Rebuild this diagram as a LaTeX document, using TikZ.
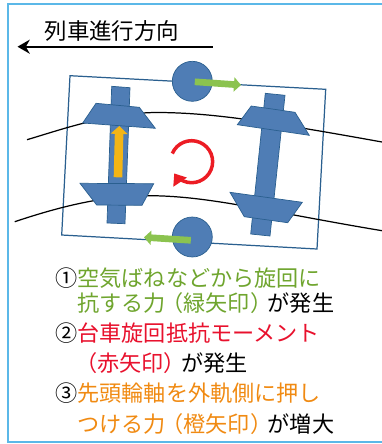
\documentclass[tikz,border=0pt]{standalone}
\usepackage{fontspec}
\setmainfont{Noto Sans CJK JP}
\usetikzlibrary{arrows.meta}
\definecolor{bogieblue}{HTML}{4F7DB5}
\definecolor{bogieline}{HTML}{2A5F8F}
\definecolor{framecyan}{HTML}{5BB8E8}
\definecolor{forcegreen}{HTML}{8BC34F}
\definecolor{forceorange}{HTML}{F3B516}
\definecolor{txtgreen}{HTML}{6FA52E}
\definecolor{txtred}{HTML}{E8112D}
\definecolor{txtorange}{HTML}{F08A12}
\definecolor{turnred}{HTML}{EC1C24}
\tikzset{
	part/.style={fill=bogieblue, draw=bogieline, line width=0.4pt},
	rail/.style={line width=0.7pt},
	force/.style={line width=3.8pt, -{Triangle[length=4pt,width=8pt]}},
	txt/.style={anchor=west, inner sep=0pt, font=\fontsize{12.6pt}{14pt}\selectfont},
}
\newcommand{\tightl}{\hspace{-2.5pt}}
\begin{document}
\begin{tikzpicture}[x=0.02cm,y=-0.02cm]
	\useasboundingbox (0,0) rectangle (382,444);
	% outer frame
	\draw[framecyan, line width=1pt] (382,4) -- (8,4) -- (8,442) -- (382,442);
	% travel direction
	\node[inner sep=0pt, font=\fontsize{12.8pt}{14pt}\selectfont] (dirlabel) at (112,31) {列車進行方向};
	\coordinate (dirstart) at (213,46.7);
	\coordinate (dirend) at (17.5,46.7);
	\draw[line width=1.1pt, -{Stealth[length=7pt,width=8pt]}] (dirstart) -- (dirend);
	% bogie frame
	\draw[bogieline, line width=0.7pt] (70,75.7) -- (325.7,89.3) -- (317,249) -- (61.7,235) -- cycle;
	\node[part, circle, minimum size=0.8cm, inner sep=0pt] (airtop) at (192.3,81.3) {};
	\node[part, circle, minimum size=0.8cm, inner sep=0pt] (airbot) at (192.3,237) {};
	% rails
	\draw[rail] (27,139.7) .. controls (60,130) and (110,112) .. (160,112.5) .. controls (210,113) and (260,120) .. (382,142);
	\draw[rail] (14.7,221.7) .. controls (50,210) and (100,195) .. (150,195.7) .. controls (210,196) and (270,212) .. (382,230.7);
	% axles
	\draw[part] (111.7,86.3) -- (130,87.7) -- (125,223.7) -- (107,223) -- cycle;
	\draw[part] (265.3,93.3) -- (285,95.3) -- (270,236) -- (250.7,234) -- cycle;
	% wheels
	\draw[part] (96,103.3) -- (139.3,107.3) -- (155.3,128.3) -- (82.7,123) -- cycle;
	\draw[part] (80,183.3) -- (153.7,183.7) -- (142,205.3) -- (96.7,205) -- cycle;
	\draw[part] (251.3,106) -- (295,112.3) -- (309.3,135.3) -- (237.3,124.7) -- cycle;
	\draw[part] (230,192.3) -- (302.3,202.3) -- (287.7,222.7) -- (244.3,216.7) -- cycle;
	% forces
	\coordinate (topforce) at (241,85);
	\coordinate (botforce) at (144,237.3);
	\coordinate (axleforce) at (119.3,126);
	\draw[force, forcegreen] (airtop.center) ++(2.5,0.5) -- (topforce);
	\draw[force, forcegreen] (airbot.center) ++(-1.5,3.3) -- (botforce);
	\draw[force, forceorange, line width=4.9pt, -{Triangle[length=4.5pt,width=9.5pt]}] (118,177.3) -- (axleforce);
	\draw[turnred, line width=2pt, -{Triangle[length=6pt,width=9pt]}] (172.3,153.5) arc[start angle=-157, end angle=146, radius=21];
	% text
	\node[txt] (lineA) at (55,278) {\textcolor{black}{①}\textcolor{txtgreen}{空気ばねなどから旋回に}};
	\node[txt] (lineB) at (77,303) {\textcolor{txtgreen}{抗する力\tightl（緑矢印）\tightl}が発生};
	\node[txt] (lineC) at (55,333) {\textcolor{black}{②}\textcolor{txtred}{台車旋回抵抗モーメント}};
	\node[txt] (lineD) at (75,363) {\textcolor{txtred}{（赤矢印）\tightl}が発生};
	\node[txt] (lineE) at (55,393) {\textcolor{black}{③}\textcolor{txtorange}{先頭輪軸を外軌側に押し}};
	\node[txt] (lineF) at (77,424) {\textcolor{txtorange}{つける力\tightl（橙矢印）\tightl}が増大};
\end{tikzpicture}
\end{document}
